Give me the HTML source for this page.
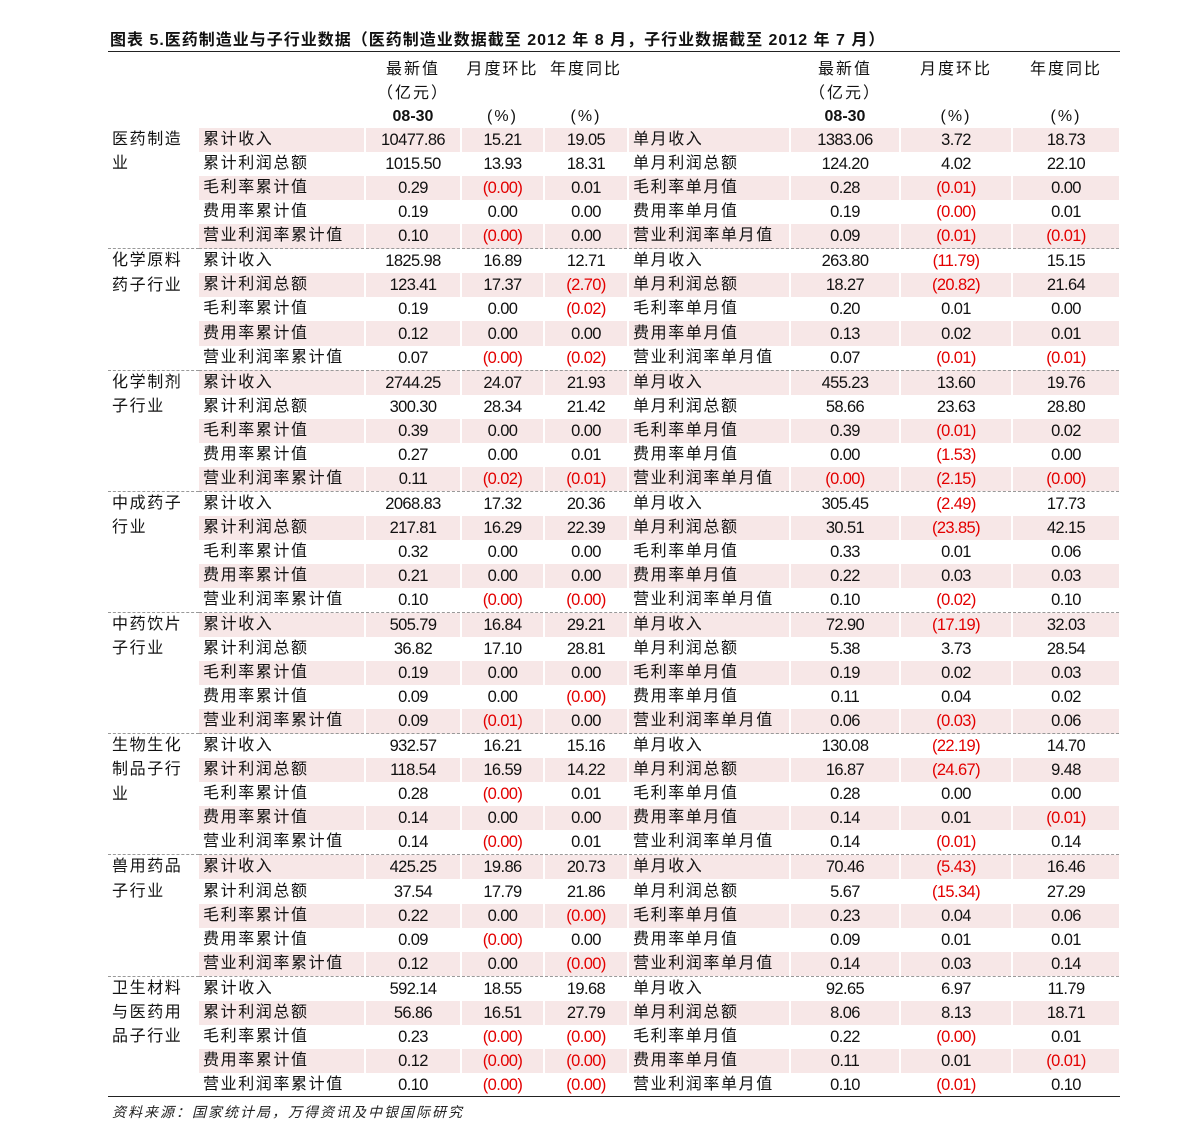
<!DOCTYPE html>
<html><head><meta charset="utf-8"><style>
body{margin:0;background:#fff;width:1191px;height:1142px;position:relative;overflow:hidden;font-family:"Liberation Sans","Noto Sans CJK SC",sans-serif;color:#111}
.title{position:absolute;left:110px;top:26px;font-size:16px;font-weight:bold;letter-spacing:1px;white-space:nowrap}
.hl{position:absolute;left:108px;width:1012px;height:0;border-top:1.5px solid #222}
.hd{position:absolute;font-size:16px;text-align:center;line-height:23.5px;letter-spacing:2px}
table{position:absolute;left:108px;top:128px;border-collapse:collapse;table-layout:fixed;width:1012px}
td{height:24.08px;padding:0;font-size:16px;line-height:24px;white-space:nowrap;border-right:2px solid #fff;box-sizing:border-box}
td.g{vertical-align:top;letter-spacing:1.6px;white-space:normal;padding-left:4px;line-height:24.2px;border-right:none}
td.l{padding-left:4px;letter-spacing:1.6px}
td.n{text-align:center;font-size:16.5px;letter-spacing:-0.6px}
tr.p td:not(.g){background:#f7e7e7}
tr.s td{border-top:1px dashed #999}
tr.s td.l,tr.s td.n{height:23.08px}
.r{color:#e30000}
.src{position:absolute;left:112px;top:1102px;font-size:14px;font-style:italic;letter-spacing:2px;color:#222}
</style></head><body>
<div class="title">图表 5.医药制造业与子行业数据（医药制造业数据截至 2012 年 8 月，子行业数据截至 2012 年 7 月）</div>
<div class="hl" style="top:51px"></div>
<div class="hd" style="left:365px;width:96px;top:58px">最新值<br>（亿元）<br><b style="letter-spacing:0">08-30</b></div>
<div class="hd" style="left:461px;width:83px;top:58px">月度环比<br>&nbsp;<br>(%)</div>
<div class="hd" style="left:544px;width:84px;top:58px">年度同比<br>&nbsp;<br>(%)</div>
<div class="hd" style="left:790px;width:110px;top:58px">最新值<br>（亿元）<br><b style="letter-spacing:0">08-30</b></div>
<div class="hd" style="left:900px;width:112px;top:58px">月度环比<br>&nbsp;<br>(%)</div>
<div class="hd" style="left:1012px;width:108px;top:58px">年度同比<br>&nbsp;<br>(%)</div>
<table>
<colgroup><col style="width:91px"><col style="width:166px"><col style="width:96px"><col style="width:83px"><col style="width:84px"><col style="width:162px"><col style="width:110px"><col style="width:112px"><col style="width:108px"></colgroup>
<tr class="p"><td class="g" rowspan="5">医药制造业</td><td class="l">累计收入</td><td class="n">10477.86</td><td class="n">15.21</td><td class="n">19.05</td><td class="l">单月收入</td><td class="n">1383.06</td><td class="n">3.72</td><td class="n">18.73</td></tr>
<tr><td class="l">累计利润总额</td><td class="n">1015.50</td><td class="n">13.93</td><td class="n">18.31</td><td class="l">单月利润总额</td><td class="n">124.20</td><td class="n">4.02</td><td class="n">22.10</td></tr>
<tr class="p"><td class="l">毛利率累计值</td><td class="n">0.29</td><td class="n r">(0.00)</td><td class="n">0.01</td><td class="l">毛利率单月值</td><td class="n">0.28</td><td class="n r">(0.01)</td><td class="n">0.00</td></tr>
<tr><td class="l">费用率累计值</td><td class="n">0.19</td><td class="n">0.00</td><td class="n">0.00</td><td class="l">费用率单月值</td><td class="n">0.19</td><td class="n r">(0.00)</td><td class="n">0.01</td></tr>
<tr class="p"><td class="l">营业利润率累计值</td><td class="n">0.10</td><td class="n r">(0.00)</td><td class="n">0.00</td><td class="l">营业利润率单月值</td><td class="n">0.09</td><td class="n r">(0.01)</td><td class="n r">(0.01)</td></tr>

<tr class="s"><td class="g" rowspan="5">化学原料药子行业</td><td class="l">累计收入</td><td class="n">1825.98</td><td class="n">16.89</td><td class="n">12.71</td><td class="l">单月收入</td><td class="n">263.80</td><td class="n r">(11.79)</td><td class="n">15.15</td></tr>
<tr class="p"><td class="l">累计利润总额</td><td class="n">123.41</td><td class="n">17.37</td><td class="n r">(2.70)</td><td class="l">单月利润总额</td><td class="n">18.27</td><td class="n r">(20.82)</td><td class="n">21.64</td></tr>
<tr><td class="l">毛利率累计值</td><td class="n">0.19</td><td class="n">0.00</td><td class="n r">(0.02)</td><td class="l">毛利率单月值</td><td class="n">0.20</td><td class="n">0.01</td><td class="n">0.00</td></tr>
<tr class="p"><td class="l">费用率累计值</td><td class="n">0.12</td><td class="n">0.00</td><td class="n">0.00</td><td class="l">费用率单月值</td><td class="n">0.13</td><td class="n">0.02</td><td class="n">0.01</td></tr>
<tr><td class="l">营业利润率累计值</td><td class="n">0.07</td><td class="n r">(0.00)</td><td class="n r">(0.02)</td><td class="l">营业利润率单月值</td><td class="n">0.07</td><td class="n r">(0.01)</td><td class="n r">(0.01)</td></tr>

<tr class="p s"><td class="g" rowspan="5">化学制剂子行业</td><td class="l">累计收入</td><td class="n">2744.25</td><td class="n">24.07</td><td class="n">21.93</td><td class="l">单月收入</td><td class="n">455.23</td><td class="n">13.60</td><td class="n">19.76</td></tr>
<tr><td class="l">累计利润总额</td><td class="n">300.30</td><td class="n">28.34</td><td class="n">21.42</td><td class="l">单月利润总额</td><td class="n">58.66</td><td class="n">23.63</td><td class="n">28.80</td></tr>
<tr class="p"><td class="l">毛利率累计值</td><td class="n">0.39</td><td class="n">0.00</td><td class="n">0.00</td><td class="l">毛利率单月值</td><td class="n">0.39</td><td class="n r">(0.01)</td><td class="n">0.02</td></tr>
<tr><td class="l">费用率累计值</td><td class="n">0.27</td><td class="n">0.00</td><td class="n">0.01</td><td class="l">费用率单月值</td><td class="n">0.00</td><td class="n r">(1.53)</td><td class="n">0.00</td></tr>
<tr class="p"><td class="l">营业利润率累计值</td><td class="n">0.11</td><td class="n r">(0.02)</td><td class="n r">(0.01)</td><td class="l">营业利润率单月值</td><td class="n r">(0.00)</td><td class="n r">(2.15)</td><td class="n r">(0.00)</td></tr>

<tr class="s"><td class="g" rowspan="5">中成药子行业</td><td class="l">累计收入</td><td class="n">2068.83</td><td class="n">17.32</td><td class="n">20.36</td><td class="l">单月收入</td><td class="n">305.45</td><td class="n r">(2.49)</td><td class="n">17.73</td></tr>
<tr class="p"><td class="l">累计利润总额</td><td class="n">217.81</td><td class="n">16.29</td><td class="n">22.39</td><td class="l">单月利润总额</td><td class="n">30.51</td><td class="n r">(23.85)</td><td class="n">42.15</td></tr>
<tr><td class="l">毛利率累计值</td><td class="n">0.32</td><td class="n">0.00</td><td class="n">0.00</td><td class="l">毛利率单月值</td><td class="n">0.33</td><td class="n">0.01</td><td class="n">0.06</td></tr>
<tr class="p"><td class="l">费用率累计值</td><td class="n">0.21</td><td class="n">0.00</td><td class="n">0.00</td><td class="l">费用率单月值</td><td class="n">0.22</td><td class="n">0.03</td><td class="n">0.03</td></tr>
<tr><td class="l">营业利润率累计值</td><td class="n">0.10</td><td class="n r">(0.00)</td><td class="n r">(0.00)</td><td class="l">营业利润率单月值</td><td class="n">0.10</td><td class="n r">(0.02)</td><td class="n">0.10</td></tr>

<tr class="p s"><td class="g" rowspan="5">中药饮片子行业</td><td class="l">累计收入</td><td class="n">505.79</td><td class="n">16.84</td><td class="n">29.21</td><td class="l">单月收入</td><td class="n">72.90</td><td class="n r">(17.19)</td><td class="n">32.03</td></tr>
<tr><td class="l">累计利润总额</td><td class="n">36.82</td><td class="n">17.10</td><td class="n">28.81</td><td class="l">单月利润总额</td><td class="n">5.38</td><td class="n">3.73</td><td class="n">28.54</td></tr>
<tr class="p"><td class="l">毛利率累计值</td><td class="n">0.19</td><td class="n">0.00</td><td class="n">0.00</td><td class="l">毛利率单月值</td><td class="n">0.19</td><td class="n">0.02</td><td class="n">0.03</td></tr>
<tr><td class="l">费用率累计值</td><td class="n">0.09</td><td class="n">0.00</td><td class="n r">(0.00)</td><td class="l">费用率单月值</td><td class="n">0.11</td><td class="n">0.04</td><td class="n">0.02</td></tr>
<tr class="p"><td class="l">营业利润率累计值</td><td class="n">0.09</td><td class="n r">(0.01)</td><td class="n">0.00</td><td class="l">营业利润率单月值</td><td class="n">0.06</td><td class="n r">(0.03)</td><td class="n">0.06</td></tr>

<tr class="s"><td class="g" rowspan="5">生物生化制品子行业</td><td class="l">累计收入</td><td class="n">932.57</td><td class="n">16.21</td><td class="n">15.16</td><td class="l">单月收入</td><td class="n">130.08</td><td class="n r">(22.19)</td><td class="n">14.70</td></tr>
<tr class="p"><td class="l">累计利润总额</td><td class="n">118.54</td><td class="n">16.59</td><td class="n">14.22</td><td class="l">单月利润总额</td><td class="n">16.87</td><td class="n r">(24.67)</td><td class="n">9.48</td></tr>
<tr><td class="l">毛利率累计值</td><td class="n">0.28</td><td class="n r">(0.00)</td><td class="n">0.01</td><td class="l">毛利率单月值</td><td class="n">0.28</td><td class="n">0.00</td><td class="n">0.00</td></tr>
<tr class="p"><td class="l">费用率累计值</td><td class="n">0.14</td><td class="n">0.00</td><td class="n">0.00</td><td class="l">费用率单月值</td><td class="n">0.14</td><td class="n">0.01</td><td class="n r">(0.01)</td></tr>
<tr><td class="l">营业利润率累计值</td><td class="n">0.14</td><td class="n r">(0.00)</td><td class="n">0.01</td><td class="l">营业利润率单月值</td><td class="n">0.14</td><td class="n r">(0.01)</td><td class="n">0.14</td></tr>

<tr class="p s"><td class="g" rowspan="5">兽用药品子行业</td><td class="l">累计收入</td><td class="n">425.25</td><td class="n">19.86</td><td class="n">20.73</td><td class="l">单月收入</td><td class="n">70.46</td><td class="n r">(5.43)</td><td class="n">16.46</td></tr>
<tr><td class="l">累计利润总额</td><td class="n">37.54</td><td class="n">17.79</td><td class="n">21.86</td><td class="l">单月利润总额</td><td class="n">5.67</td><td class="n r">(15.34)</td><td class="n">27.29</td></tr>
<tr class="p"><td class="l">毛利率累计值</td><td class="n">0.22</td><td class="n">0.00</td><td class="n r">(0.00)</td><td class="l">毛利率单月值</td><td class="n">0.23</td><td class="n">0.04</td><td class="n">0.06</td></tr>
<tr><td class="l">费用率累计值</td><td class="n">0.09</td><td class="n r">(0.00)</td><td class="n">0.00</td><td class="l">费用率单月值</td><td class="n">0.09</td><td class="n">0.01</td><td class="n">0.01</td></tr>
<tr class="p"><td class="l">营业利润率累计值</td><td class="n">0.12</td><td class="n">0.00</td><td class="n r">(0.00)</td><td class="l">营业利润率单月值</td><td class="n">0.14</td><td class="n">0.03</td><td class="n">0.14</td></tr>

<tr class="s"><td class="g" rowspan="5">卫生材料与医药用品子行业</td><td class="l">累计收入</td><td class="n">592.14</td><td class="n">18.55</td><td class="n">19.68</td><td class="l">单月收入</td><td class="n">92.65</td><td class="n">6.97</td><td class="n">11.79</td></tr>
<tr class="p"><td class="l">累计利润总额</td><td class="n">56.86</td><td class="n">16.51</td><td class="n">27.79</td><td class="l">单月利润总额</td><td class="n">8.06</td><td class="n">8.13</td><td class="n">18.71</td></tr>
<tr><td class="l">毛利率累计值</td><td class="n">0.23</td><td class="n r">(0.00)</td><td class="n r">(0.00)</td><td class="l">毛利率单月值</td><td class="n">0.22</td><td class="n r">(0.00)</td><td class="n">0.01</td></tr>
<tr class="p"><td class="l">费用率累计值</td><td class="n">0.12</td><td class="n r">(0.00)</td><td class="n r">(0.00)</td><td class="l">费用率单月值</td><td class="n">0.11</td><td class="n">0.01</td><td class="n r">(0.01)</td></tr>
<tr><td class="l">营业利润率累计值</td><td class="n">0.10</td><td class="n r">(0.00)</td><td class="n r">(0.00)</td><td class="l">营业利润率单月值</td><td class="n">0.10</td><td class="n r">(0.01)</td><td class="n">0.10</td></tr>
</table>
<div class="hl" style="top:1096px"></div>
<div class="src">资料来源：国家统计局，万得资讯及中银国际研究</div>
</body></html>
